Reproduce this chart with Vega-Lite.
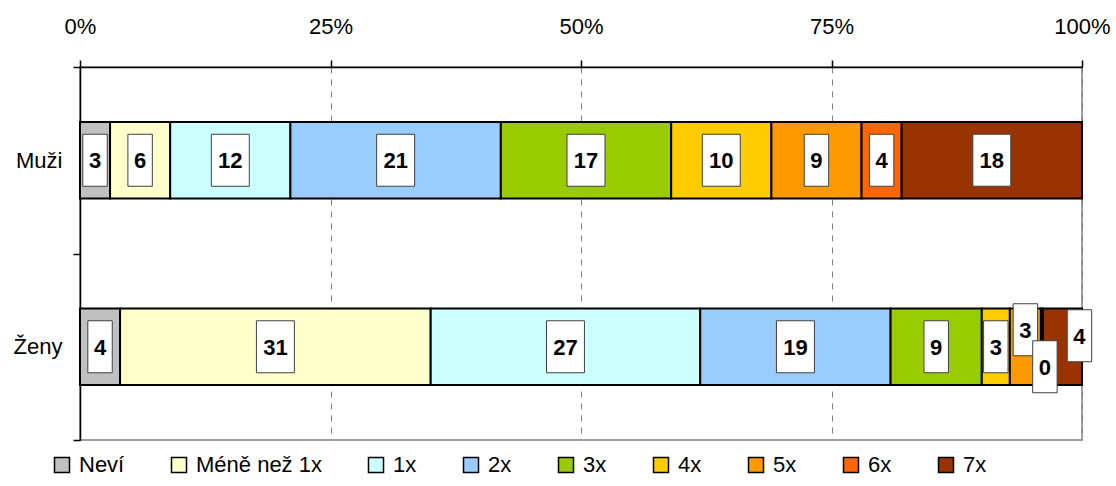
{
  "$schema": "https://vega.github.io/schema/vega-lite/v6.json",
  "width": 1002,
  "height": 373,
  "autosize": {"type": "none"},
  "padding": {"left": 80, "top": 67, "right": 34, "bottom": 46},
  "background": "white",
  "config": {
    "font": "Liberation Sans",
    "view": {"stroke": "#808080", "strokeWidth": 1.5},
    "axis": {"labelColor": "black", "labelFont": "Liberation Sans", "labelFontSize": 22, "domainColor": "black", "domainWidth": 1.5, "tickColor": "black", "tickWidth": 1.5, "tickSize": 7},
    "legend": {"labelFont": "Liberation Sans", "labelFontSize": 22, "labelColor": "black", "symbolType": "square", "symbolSize": 225, "symbolStrokeColor": "black", "symbolStrokeWidth": 1.5, "symbolOpacity": 1, "labelLimit": 400}
  },
  "data": {
    "values": [
      {"g": "Muži", "k": "Neví", "o": 1, "value": 3},
      {"g": "Muži", "k": "Méně než 1x", "o": 2, "value": 6},
      {"g": "Muži", "k": "1x", "o": 3, "value": 12},
      {"g": "Muži", "k": "2x", "o": 4, "value": 21},
      {"g": "Muži", "k": "3x", "o": 5, "value": 17},
      {"g": "Muži", "k": "4x", "o": 6, "value": 10},
      {"g": "Muži", "k": "5x", "o": 7, "value": 9},
      {"g": "Muži", "k": "6x", "o": 8, "value": 4},
      {"g": "Muži", "k": "7x", "o": 9, "value": 18},
      {"g": "Ženy", "k": "Neví", "o": 1, "value": 4},
      {"g": "Ženy", "k": "Méně než 1x", "o": 2, "value": 31},
      {"g": "Ženy", "k": "1x", "o": 3, "value": 26.9},
      {"g": "Ženy", "k": "2x", "o": 4, "value": 19},
      {"g": "Ženy", "k": "3x", "o": 5, "value": 9.1},
      {"g": "Ženy", "k": "4x", "o": 6, "value": 2.8},
      {"g": "Ženy", "k": "5x", "o": 7, "value": 3.1},
      {"g": "Ženy", "k": "6x", "o": 8, "value": 0.2},
      {"g": "Ženy", "k": "7x", "o": 9, "value": 3.9}
    ]
  },
  "transform": [
    {"stack": "value", "groupby": ["g"], "sort": [{"field": "o"}], "as": ["x0", "x1"], "offset": "normalize"},
    {"calculate": "(datum.x0 + datum.x1) / 2", "as": "mid"}
  ],
  "encoding": {
    "y": {
      "field": "g", "type": "nominal", "sort": ["Muži", "Ženy"],
      "scale": {"paddingInner": 0, "paddingOuter": 0},
      "axis": {"title": null, "tickBand": "extent", "labelPadding": 11, "labelAngle": 0}
    }
  },
  "layer": [
    {
      "mark": {"type": "bar", "stroke": "black", "strokeWidth": 2, "opacity": 1, "height": {"band": 0.41}},
      "encoding": {
        "x": {"field": "x0", "type": "quantitative", "scale": {"domain": [0, 1], "nice": false},
          "axis": {"orient": "top", "title": null, "format": "%", "values": [0, 0.25, 0.5, 0.75, 1], "labelFlush": false, "labelPadding": 22, "grid": true, "gridDash": [6, 6], "gridColor": "#808080", "gridWidth": 1}},
        "x2": {"field": "x1"},
        "color": {
          "field": "k", "type": "nominal",
          "scale": {"domain": ["Neví", "Méně než 1x", "1x", "2x", "3x", "4x", "5x", "6x", "7x"],
            "range": ["#C0C0C0", "#FFFFCC", "#CCFFFF", "#99CCFF", "#99CC00", "#FFCC00", "#FF9900", "#FF6600", "#993300"]},
          "legend": {"title": null, "orient": "none", "legendX": -29, "legendY": 387, "direction": "horizontal", "columnPadding": 43, "labelOffset": 6}
        }
      }
    },
    {
      "mark": {"type": "point", "filled": true, "fill": "white", "stroke": "#404040", "strokeWidth": 1, "size": 2704, "opacity": 1},
      "encoding": {
        "x": {"field": "mid", "type": "quantitative"},
        "shape": {"condition": [
          {"test": "datum.g == 'Ženy' && datum.k == '5x'", "value": "M-0.47,-1.654H0.47V0.346H-0.47Z"},
          {"test": "datum.g == 'Ženy' && datum.k == '6x'", "value": "M-0.355,-0.231H0.585V1.769H-0.355Z"},
          {"test": "datum.g == 'Ženy' && datum.k == '7x'", "value": "M0.184,-1.423H1.124V0.577H0.184Z"},
          {"test": "datum.value >= 9.5", "value": "M-0.73,-1H0.73V1H-0.73Z"}
        ], "value": "M-0.47,-1H0.47V1H-0.47Z"}
      }
    },
    {
      "mark": {"type": "text", "fontSize": 22, "fontWeight": "bold", "color": "black", "baseline": "middle", "align": "center",
        "dx": {"expr": "datum.g == 'Ženy' && datum.k == '7x' ? 17 : (datum.g == 'Ženy' && datum.k == '6x' ? 3 : 0)"},
        "dy": {"expr": "(datum.g == 'Ženy' && datum.k == '5x' ? -17 : (datum.g == 'Ženy' && datum.k == '6x' ? 20 : (datum.g == 'Ženy' && datum.k == '7x' ? -11 : 0))) + 1"}},
      "encoding": {
        "x": {"field": "mid", "type": "quantitative"},
        "text": {"field": "value", "type": "quantitative", "format": ".0f"}
      }
    }
  ]
}
